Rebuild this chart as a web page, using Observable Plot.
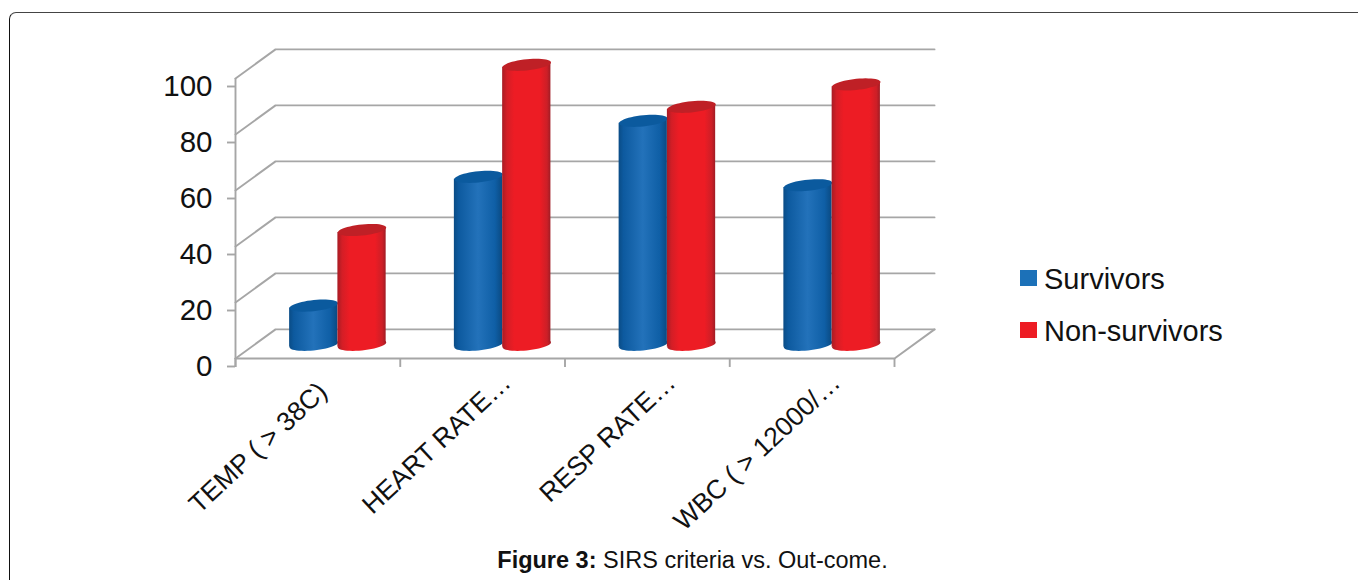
<!DOCTYPE html>
<html>
<head>
<meta charset="utf-8">
<script src="https://cdn.jsdelivr.net/npm/d3@7"></script>
<script src="https://cdn.jsdelivr.net/npm/@observablehq/plot@0.6"></script>
<style>
  html, body { margin: 0; padding: 0; background: #fff; overflow: hidden; }
  body { width: 1358px; height: 580px; position: relative; font-family: "Liberation Sans", Arial, sans-serif; }
  #frame { position: absolute; left: 9px; top: 12px; width: 1500px; height: 700px; box-sizing: border-box;
           border-top: 1.5px solid #444; border-left: 1.5px solid #111; border-top-left-radius: 7px; }
  #chart { position: absolute; left: 0; top: 0; }
  #chart svg { display: block; }
  .key { position: absolute; left: 1020px; display: flex; align-items: center; font-size: 29px; color: #111; line-height: 30px; }
  .key i { display: block; width: 17px; height: 16px; margin-right: 7px; }
  .key span { position: relative; top: 1px; }
  #caption { position: absolute; left: 0; width: 1385px; top: 547px; text-align: center; font-size: 23.5px; color: #111; }
</style>
</head>
<body>
<div id="frame"></div>
<div id="chart"></div>
<div class="key" style="top:263px"><i style="background:#1c71b8"></i><span>Survivors</span></div>
<div class="key" style="top:315px"><i style="background:#ed1c24"></i><span>Non-survivors</span></div>
<div id="caption"><b>Figure 3:</b> SIRS criteria vs. Out-come.</div>
<script>
// SIRS criteria, percentage of patients by outcome
const criteria = ["TEMP ( > 38C)", "HEART RATE…", "RESP RATE…", "WBC ( > 12000/…"];
const survivors = [14, 60, 80, 57];
const nonSurvivors = [41, 100, 85, 93];
const yTicks = [0, 20, 40, 60, 80, 100];

// Oblique projection of the chart box: a unit of depth moves right and up
const depthX = 0.243;   // in category units
const depthY = 10.4;    // in value units
const barWidth = 0.293; // in category units
const midDepth = 0.5;
const baseLevel = 0.47 * depthY;
const capTilt = 0.86;   // rise of a cylinder end from its centre to its edge, in value units
const capRadius = 24.2;

const groupX = (i) => i + 0.5 + midDepth * depthX;
const rows = (values, series, side) => values.map((v, i) => ({
  id: `${series} ${i}`, series, value: v,
  x1: groupX(i) + (side === 0 ? -barWidth : 0),
  x2: groupX(i) + (side === 0 ? 0 : barWidth),
  xc: groupX(i) + (side === 0 ? -barWidth / 2 : barWidth / 2)
}));
const blue = rows(survivors, "Survivors", 0);
const red = rows(nonSurvivors, "Non-survivors", 1);

// Cylinder sides: a band whose top and bottom edges follow the tilt of the ends
const sides = (data) => data.flatMap((d) => [
  { id: d.id, x: d.x1, low: baseLevel - capTilt, high: baseLevel + d.value - capTilt },
  { id: d.id, x: d.x2, low: baseLevel + capTilt, high: baseLevel + d.value + capTilt }
]);

// Flattened, slightly sheared ellipse for the ends of each cylinder
const capSymbol = {
  draw(context, size) {
    const rx = Math.sqrt(size / Math.PI), ry = rx * 0.23, shear = -0.1;
    const n = 48;
    for (let k = 0; k < n; ++k) {
      const a = (2 * Math.PI * k) / n;
      const px = rx * Math.cos(a), py = ry * Math.sin(a) + shear * px;
      if (k === 0) context.moveTo(px, py); else context.lineTo(px, py);
    }
    context.closePath();
  }
};

const gradients = () => {
  const defs = document.createElementNS("http://www.w3.org/2000/svg", "defs");
  defs.innerHTML = `
    <linearGradient id="cylBlue" x1="0" x2="1" y1="0" y2="0">
      <stop offset="0" stop-color="#0a4c86"/><stop offset="0.1" stop-color="#0d5a9f"/>
      <stop offset="0.5" stop-color="#2372ba"/><stop offset="0.85" stop-color="#0f5fa6"/>
      <stop offset="1" stop-color="#0a4a82"/>
    </linearGradient>
    <linearGradient id="cylRed" x1="0" x2="1" y1="0" y2="0">
      <stop offset="0" stop-color="#a81c24"/><stop offset="0.1" stop-color="#d41e26"/>
      <stop offset="0.25" stop-color="#ed1c24"/><stop offset="0.78" stop-color="#ed1c24"/>
      <stop offset="0.93" stop-color="#cc1f27"/><stop offset="1" stop-color="#a01c24"/>
    </linearGradient>`;
  return defs;
};

const gridColor = "#a6a6a6";
const gridWidth = 1.9;
const frontLeft = 0, frontRight = criteria.length;
const categoryEdges = d3.range(frontLeft, frontRight + 1);

const wall = yTicks.map((v) => [
  { v, x: frontLeft, y: v },
  { v, x: frontLeft + depthX, y: v + depthY },
  { v, x: frontRight + depthX, y: v + depthY }
]).flat();
const floorEdge = [
  { x: frontLeft, y: 0 }, { x: frontRight, y: 0 }, { x: frontRight + depthX, y: depthY }
];

const cylinder = (data, gradient, capColor) => [
  Plot.dot(data, { x: "xc", y: () => baseLevel, r: capRadius, symbol: capSymbol, fill: `url(#${gradient})`, stroke: "none" }),
  Plot.areaY(sides(data), { x: "x", y1: "low", y2: "high", z: "id", fill: `url(#${gradient})` }),
  Plot.dot(data, { x: "xc", y: (d) => baseLevel + d.value, r: capRadius, symbol: capSymbol, fill: capColor, stroke: "none" })
];

const categoryLabels = (indices, dx, dy) => Plot.text(indices, {
  x: (i) => i + 0.5, y: 0, text: (i) => criteria[i], rotate: -43, textAnchor: "end",
  fontSize: 26.5, fill: "#111", dx, dy
});

const chart = Plot.plot({
  width: 1358, height: 580,
  marginTop: 78, marginBottom: 222, marginLeft: 235, marginRight: 464,
  style: { fontFamily: "'Liberation Sans', Arial, sans-serif", background: "transparent" },
  x: { type: "linear", domain: [frontLeft, frontRight], axis: null },
  y: { type: "linear", domain: [0, 100], axis: null },
  marks: [
    gradients,
    Plot.line(wall, { x: "x", y: "y", z: "v", stroke: gridColor, strokeWidth: gridWidth }),
    Plot.line(floorEdge, { x: "x", y: "y", stroke: gridColor, strokeWidth: gridWidth }),
    Plot.ruleX([frontLeft], { y1: -3.2, y2: 100, stroke: gridColor, strokeWidth: gridWidth }),
    Plot.ruleX(categoryEdges, { y1: -3.2, y2: 0, stroke: gridColor, strokeWidth: gridWidth }),
    Plot.axisY(yTicks, { tickSize: 8, tickPadding: 15, fontSize: 29.5, dy: 8, stroke: gridColor, strokeWidth: gridWidth, fill: "#111", label: null }),
    ...cylinder(blue, "cylBlue", "#0b5a9e"),
    ...cylinder(red, "cylRed", "#bf2026"),
    categoryLabels([0], 5, 29),
    categoryLabels([1, 2, 3], 24, 20)
  ]
});
document.getElementById("chart").append(chart);
</script>
</body>
</html>
